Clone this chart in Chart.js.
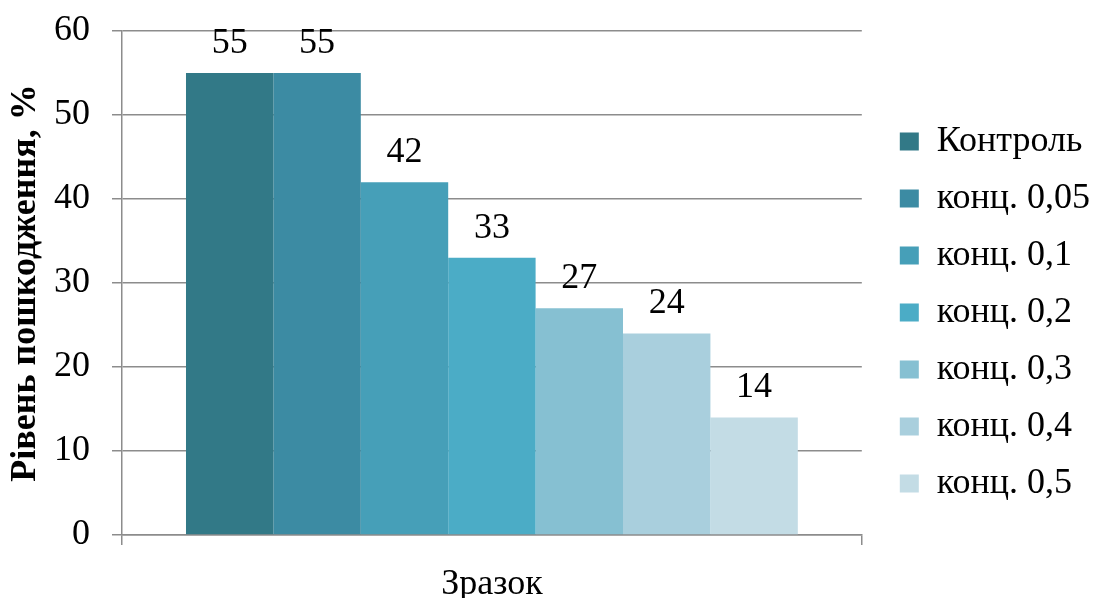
<!DOCTYPE html>
<html>
<head>
<meta charset="utf-8">
<script src="https://cdn.jsdelivr.net/npm/chart.js@4/dist/chart.umd.min.js"></script>
<style>
  html, body { margin: 0; padding: 0; background: #fff; }
  #wrap { width: 1096px; height: 598px; }
</style>
</head>
<body>
<div id="wrap"><canvas id="chart"></canvas></div>
<script>
var categories = ['Зразок'];
var seriesNames = ['Контроль', 'конц. 0,05', 'конц. 0,1', 'конц. 0,2', 'конц. 0,3', 'конц. 0,4', 'конц. 0,5'];
var seriesValues = [55, 55, 42, 33, 27, 24, 14];
var seriesColors = ['#327987', '#3c8ba3', '#469fb8', '#4bacc6', '#86c0d2', '#a9cfdd', '#c3dce5'];

var serif = "'Liberation Serif', 'Times New Roman', serif";

// labels above each bar
var barLabels = {
  id: 'barLabels',
  afterDatasetsDraw: function (chart) {
    var ctx = chart.ctx;
    ctx.save();
    ctx.font = '36px ' + serif;
    ctx.fillStyle = '#000';
    ctx.textAlign = 'center';
    ctx.textBaseline = 'alphabetic';
    chart.data.datasets.forEach(function (ds, i) {
      var meta = chart.getDatasetMeta(i);
      meta.data.forEach(function (bar, j) {
        ctx.fillText(ds.data[j], bar.x, bar.y - 20);
      });
    });
    ctx.restore();
  }
};

var datasets = [];
for (i = 0; i < seriesNames.length; i++) {
  datasets.push({
    label: seriesNames[i],
    data: [seriesValues[i]],
    backgroundColor: seriesColors[i],
    borderWidth: 0,
    barPercentage: 1,
    categoryPercentage: 0.827
  });
}

new Chart(document.getElementById('chart'), {
  type: 'bar',
  data: { labels: categories, datasets: datasets },
  plugins: [barLabels],
  options: {
    responsive: true,
    maintainAspectRatio: false,
    animation: false,
    layout: { padding: { top: 27, right: -4, left: 4, bottom: 0 } },
    plugins: {
      tooltip: { enabled: false },
      legend: {
        position: 'right',
        labels: {
          font: { family: serif, size: 36 },
          color: '#000',
          boxWidth: 19,
          boxHeight: 18,
          padding: 21
        }
      }
    },
    scales: {
      y: {
        min: 0,
        max: 60,
        ticks: {
          stepSize: 10,
          font: { family: serif, size: 36, lineHeight: 0.5 },
          color: '#000',
          padding: 22
        },
        grid: { color: '#8c8c8c', lineWidth: 1.5, tickLength: 10 },
        border: { color: '#8c8c8c', width: 1.5 },
        title: {
          display: true,
          text: 'Рівень пошкодження, %',
          font: { family: serif, size: 36, weight: 'bold' },
          color: '#000',
          padding: { top: 0, bottom: 7 }
        },
        afterFit: function (scale) { scale.width = 118; }
      },
      // hidden spacer between plot and legend
      gap: {
        position: 'right',
        display: false,
        afterFit: function (scale) { scale.width = 17; }
      },
      x: {
        ticks: {
          font: { family: serif, size: 36, lineHeight: 1 },
          color: '#000',
          padding: 22
        },
        grid: { color: '#8c8c8c', lineWidth: 1.5, drawOnChartArea: false, tickLength: 10 },
        border: { color: '#8c8c8c', width: 1.5 },
        afterFit: function (scale) { scale.height = 63; }
      }
    }
  }
});
</script>
</body>
</html>
